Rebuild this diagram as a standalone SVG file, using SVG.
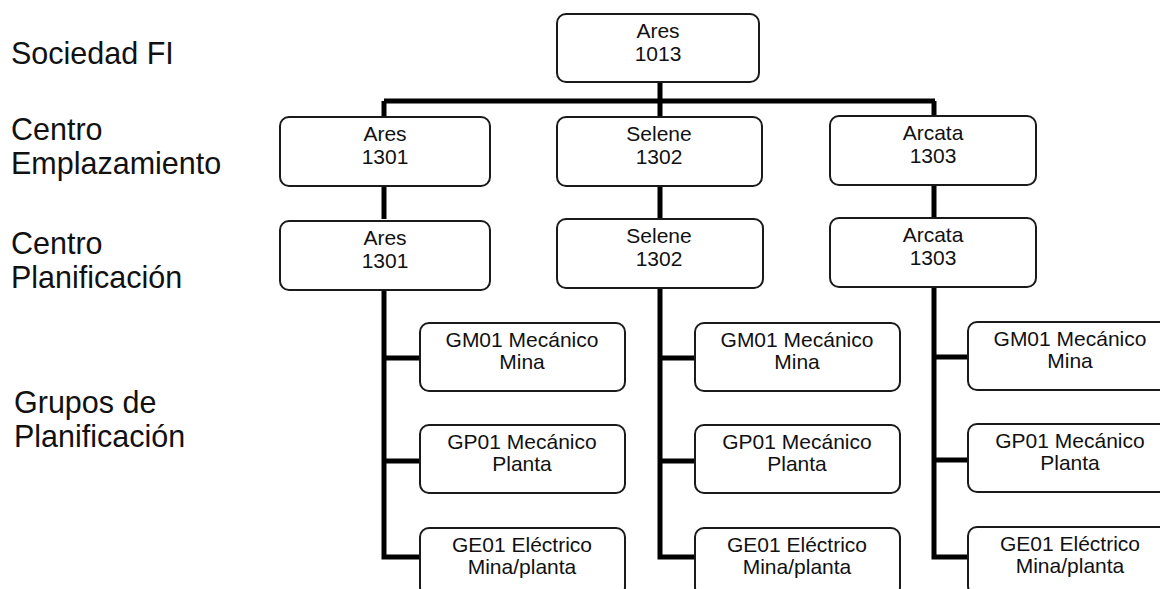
<svg xmlns="http://www.w3.org/2000/svg" width="1160" height="589" viewBox="0 0 1160 589">
<style>
.box{fill:#fff;stroke:#1a1a1a;stroke-width:2}
.t{font-family:"Liberation Sans",Arial,sans-serif;font-size:21px;fill:#111;text-anchor:middle}
.lbl{font-family:"Liberation Sans",Arial,sans-serif;font-size:30.5px;fill:#111}
.con{fill:none;stroke:#000;stroke-width:5;stroke-linejoin:miter}
</style>
<rect width="1160" height="589" fill="#fff"/>
<g id="labels">
<text class="lbl" x="11" y="64">Sociedad FI</text>
<text class="lbl" x="11" y="140">Centro</text>
<text class="lbl" x="11" y="174">Emplazamiento</text>
<text class="lbl" x="11" y="254">Centro</text>
<text class="lbl" x="11" y="288">Planificación</text>
<text class="lbl" x="14" y="413">Grupos de</text>
<text class="lbl" x="14" y="447">Planificación</text>
</g>
<g id="connectors">
<path class="con" d="M660 82V101M384 101H935M384 101V117M660 101V117M934 101V117"/>
<path class="con" d="M384 186V219M660 186V219M934 186V219"/>
<path class="con" d="M384 288V557H422M384 358H422M384 461H422"/>
<path class="con" d="M660 288V557H697M660 358H697M660 461H697"/>
<path class="con" d="M934 287V557H970M934 357H970M934 460H970"/>
</g>
<g id="n-1013"><rect class="box" x="557" y="14" width="202" height="68" rx="9"/><text class="t" x="658" y="38">Ares</text><text class="t" x="658" y="61">1013</text></g>
<g id="n-ce-1301"><rect class="box" x="280" y="117" width="210" height="69" rx="9"/><text class="t" x="385" y="141">Ares</text><text class="t" x="385" y="164">1301</text></g>
<g id="n-ce-1302"><rect class="box" x="557" y="117" width="205" height="69" rx="9"/><text class="t" x="659" y="141">Selene</text><text class="t" x="659" y="164">1302</text></g>
<g id="n-ce-1303"><rect class="box" x="830" y="116" width="206" height="69" rx="9"/><text class="t" x="933" y="140">Arcata</text><text class="t" x="933" y="163">1303</text></g>
<g id="n-cp-1301"><rect class="box" x="280" y="221" width="210" height="69" rx="9"/><text class="t" x="385" y="245">Ares</text><text class="t" x="385" y="268">1301</text></g>
<g id="n-cp-1302"><rect class="box" x="557" y="219" width="206" height="69" rx="9"/><text class="t" x="659" y="243">Selene</text><text class="t" x="659" y="266">1302</text></g>
<g id="n-cp-1303"><rect class="box" x="830" y="218" width="206" height="69" rx="9"/><text class="t" x="933" y="242">Arcata</text><text class="t" x="933" y="265">1303</text></g>
<g id="n-gm-1"><rect class="box" x="420" y="323" width="205" height="68" rx="9"/><text class="t" x="522" y="347">GM01 Mecánico</text><text class="t" x="522" y="369">Mina</text></g>
<g id="n-gp-1"><rect class="box" x="420" y="425" width="205" height="68" rx="9"/><text class="t" x="522" y="449">GP01 Mecánico</text><text class="t" x="522" y="471">Planta</text></g>
<g id="n-ge-1"><rect class="box" x="420" y="528" width="205" height="68" rx="9"/><text class="t" x="522" y="552">GE01 Eléctrico</text><text class="t" x="522" y="574">Mina/planta</text></g>
<g id="n-gm-2"><rect class="box" x="695" y="323" width="205" height="68" rx="9"/><text class="t" x="797" y="347">GM01 Mecánico</text><text class="t" x="797" y="369">Mina</text></g>
<g id="n-gp-2"><rect class="box" x="695" y="425" width="205" height="68" rx="9"/><text class="t" x="797" y="449">GP01 Mecánico</text><text class="t" x="797" y="471">Planta</text></g>
<g id="n-ge-2"><rect class="box" x="695" y="528" width="205" height="68" rx="9"/><text class="t" x="797" y="552">GE01 Eléctrico</text><text class="t" x="797" y="574">Mina/planta</text></g>
<g id="n-gm-3"><rect class="box" x="968" y="322" width="205" height="68" rx="9"/><text class="t" x="1070" y="346">GM01 Mecánico</text><text class="t" x="1070" y="368">Mina</text></g>
<g id="n-gp-3"><rect class="box" x="968" y="424" width="205" height="68" rx="9"/><text class="t" x="1070" y="448">GP01 Mecánico</text><text class="t" x="1070" y="470">Planta</text></g>
<g id="n-ge-3"><rect class="box" x="968" y="527" width="205" height="68" rx="9"/><text class="t" x="1070" y="551">GE01 Eléctrico</text><text class="t" x="1070" y="573">Mina/planta</text></g>
</svg>
